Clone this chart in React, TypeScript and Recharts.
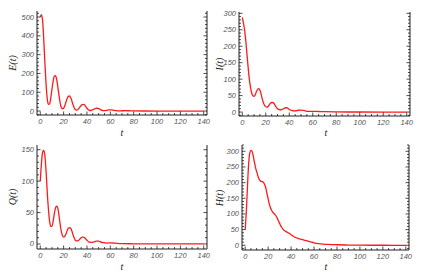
import React from 'react';
import { LineChart, Line, XAxis, YAxis } from 'recharts';

// E(t)
const tE = [0, 1, 2, 3, 4, 5, 6, 7, 8, 9, 10, 11, 12, 13, 14, 15, 16, 17, 18, 19, 20, 21, 22, 23, 24, 25, 26, 27, 28, 29, 30, 31, 32, 33, 34, 35, 36, 37, 38, 39, 40, 41, 42, 43, 44, 45, 46, 47, 48, 49, 50, 51, 52, 53, 54, 55, 57, 59, 61, 63, 65, 67, 70, 73, 76, 80, 90, 100, 120, 140];
const valuesE = [500, 512, 480, 380, 250, 140, 65, 35, 38, 70, 115, 158, 184, 188, 170, 130, 85, 45, 20, 12, 15, 28, 48, 66, 78, 80, 72, 55, 35, 18, 8, 5, 7, 13, 22, 30, 34, 35, 32, 24, 15, 8, 4, 3, 4, 7, 10, 13, 15, 15, 13, 10, 6, 3, 2, 2, 4, 6, 6, 4, 2, 1, 1.5, 2, 1.5, 0.8, 0.3, 0.1, 0, 0];

// I(t)
const tI = [0, 1, 2, 3, 4, 5, 6, 7, 8, 9, 10, 11, 12, 13, 14, 15, 16, 17, 18, 19, 20, 21, 22, 23, 24, 25, 26, 27, 28, 29, 30, 31, 32, 33, 34, 35, 36, 37, 38, 39, 40, 42, 44, 46, 48, 50, 52, 54, 57, 60, 63, 66, 70, 80, 90, 100, 120, 140];
const valuesI = [288, 270, 248, 215, 175, 135, 100, 75, 58, 50, 48, 52, 62, 69, 71, 67, 55, 40, 28, 20, 16, 15, 17, 22, 27, 29, 29, 26, 20, 14, 10, 8, 7, 7, 8, 10, 12, 13, 13, 11, 8, 5, 3.5, 4, 5.5, 6, 5, 3, 2, 2, 2, 1.5, 1, 0.4, 0.2, 0.1, 0, 0];

// Q(t)
const tQ = [0, 1, 2, 3, 4, 5, 6, 7, 8, 9, 10, 11, 12, 13, 14, 15, 16, 17, 18, 19, 20, 21, 22, 23, 24, 25, 26, 27, 28, 29, 30, 31, 32, 33, 34, 35, 36, 37, 38, 39, 40, 42, 44, 46, 48, 50, 52, 54, 57, 60, 63, 66, 70, 80, 90, 100, 120, 140];
const valuesQ = [100, 128, 146, 149, 140, 115, 82, 55, 36, 28, 28, 36, 48, 57, 60, 57, 46, 32, 20, 13, 11, 12, 16, 21, 25, 26, 25, 21, 15, 10, 6, 5, 5, 6, 8, 10, 11, 11, 10, 8, 6, 3, 2.5, 3.5, 4.5, 4.5, 3, 2, 1.5, 1.8, 1.5, 1, 0.6, 0.3, 0.1, 0, 0, 0];

// H(t)
const tH = [0, 1, 2, 3, 4, 5, 6, 7, 8, 9, 10, 11, 12, 13, 14, 15, 16, 17, 18, 19, 20, 21, 22, 23, 24, 25, 26, 27, 28, 29, 30, 31, 32, 33, 34, 35, 36, 37, 38, 39, 40, 42, 44, 46, 48, 50, 52, 54, 57, 60, 64, 68, 72, 80, 90, 100, 120, 140];
const valuesH = [50, 110, 190, 260, 295, 303, 300, 285, 265, 248, 235, 222, 212, 206, 204, 203, 200, 193, 182, 165, 148, 132, 120, 112, 106, 102, 98, 93, 86, 78, 70, 62, 56, 51, 47, 45, 43, 41, 39, 37, 34, 29, 25, 22, 20, 18, 16, 14, 11, 8, 5.5, 4, 3, 1.8, 0.8, 0.4, 0.1, 0];

const xMajor = [0, 20, 40, 60, 80, 100, 120, 140];
const xTicks = [0, 5, 10, 15, 20, 25, 30, 35, 40, 45, 50, 55, 60, 65, 70, 75, 80, 85, 90, 95, 100, 105, 110, 115, 120, 125, 130, 135, 140];
const yTicksE = [0, 100, 200, 300, 400, 500];
const yTicks50 = [0, 50, 100, 150, 200, 250, 300];
const yTicksQ = [0, 50, 100, 150];

const makeRows = (t: number[], v: number[]) => t.map((x, i) => ({ t: x, v: v[i] }));

// minor ticks between the labelled ones, kept inside the frame
const minorsOf = (major: number[], lo: number, hi: number, div: number) => {
  const step = major[1] - major[0];
  const out: number[] = [];
  for (let m = major[0] - step; m <= major[major.length - 1] + step; m += step) {
    for (let k = 0; k < div; k++) {
      const val = m + (k * step) / div;
      if (val >= lo && val <= hi) out.push(Math.round(val * 1000) / 1000);
    }
  }
  return out;
};

const labelStyle = { fontFamily: 'Liberation Sans, Arial, sans-serif', fontSize: 7.5, fontStyle: 'italic', fill: '#555' };

const tickFactory = (side: 'bottom' | 'top' | 'left' | 'right', majors: number[], showLabel: boolean) => (props: any) => {
  const { x, y, payload } = props;
  const v = payload.value;
  const major = majors.includes(v);
  const len = major ? 3.5 : 2;
  let line;
  if (side === 'bottom') line = <line x1={x} x2={x} y1={y} y2={y - len} stroke="#000" strokeWidth={0.7} />;
  else if (side === 'top') line = <line x1={x} x2={x} y1={y} y2={y + len} stroke="#000" strokeWidth={0.7} />;
  else if (side === 'left') line = <line x1={x} x2={x + len} y1={y} y2={y} stroke="#000" strokeWidth={0.7} />;
  else line = <line x1={x} x2={x - len} y1={y} y2={y} stroke="#000" strokeWidth={0.7} />;
  let label = null;
  if (showLabel && major) {
    if (side === 'bottom') label = <text x={x} y={y + 9} textAnchor="middle" style={labelStyle}>{v}</text>;
    if (side === 'left') label = <text x={x - 3} y={y + 2.5} textAnchor="end" style={labelStyle}>{v}</text>;
  }
  return <g>{line}{label}</g>;
};

interface PanelProps {
  rows: { t: number; v: number }[];
  ox: number; oy: number;
  left: number; top: number; right: number; bottom: number;
  yDomain: [number, number];
  yMajor: number[];
  yMinorDiv: number;
}

const Panel: React.FC<PanelProps> = ({ rows, ox, oy, left, top, right, bottom, yDomain, yMajor, yMinorDiv }) => {
  const W = 215;
  const H = 138;
  const yAll = minorsOf(yMajor, yDomain[0], yDomain[1], yMinorDiv);
  return (
    <div style={{ position: 'absolute', left: ox, top: oy, width: W, height: H }}>
      <LineChart
        width={W}
        height={H}
        data={rows}
        margin={{ top: top - oy, left: 0, right: 0, bottom: 0 }}
      >
        <XAxis dataKey="t" type="number" domain={[-2.8, 142.8]} ticks={xTicks} interval={0}
          allowDataOverflow height={oy + H - bottom} tickSize={0} tickMargin={0}
          axisLine={{ stroke: '#222', strokeWidth: 1 }} tick={tickFactory('bottom', xMajor, true)} />
        <XAxis xAxisId="top" orientation="top" dataKey="t" type="number" domain={[-2.8, 142.8]} ticks={xTicks} interval={0}
          allowDataOverflow height={0} tickSize={0} tickMargin={0}
          axisLine={{ stroke: '#222', strokeWidth: 1 }} tick={tickFactory('top', xMajor, false)} />
        <YAxis type="number" domain={yDomain} ticks={yAll} interval={0} allowDataOverflow
          width={left - ox} tickSize={0} tickMargin={0}
          axisLine={{ stroke: '#222', strokeWidth: 1 }} tick={tickFactory('left', yMajor, true)} />
        <YAxis yAxisId="right" orientation="right" type="number" domain={yDomain} ticks={yAll} interval={0} allowDataOverflow
          width={ox + W - right} tickSize={0} tickMargin={0}
          axisLine={{ stroke: '#222', strokeWidth: 1 }} tick={tickFactory('right', yMajor, false)} />
        <Line type="monotone" dataKey="v" stroke="#ff1a1a" strokeWidth={1.3} dot={false} isAnimationActive={false} />
      </LineChart>
    </div>
  );
};

const serif = { fontFamily: 'Liberation Serif, Times New Roman, serif', fontStyle: 'italic' as const, fontSize: 10, fill: '#222' };

const App: React.FC = () => {
  return (
    <div style={{ position: 'absolute', left: 0, top: 0, width: 430, height: 276, background: '#fff' }}>
      <Panel rows={makeRows(tE, valuesE)} ox={0} oy={0} left={37} top={11} right={207} bottom={115}
        yDomain={[-21, 532]} yMajor={yTicksE} yMinorDiv={5} />
      <Panel rows={makeRows(tI, valuesI)} ox={215} oy={0} left={239} top={12} right={410} bottom={116}
        yDomain={[-12, 304]} yMajor={yTicks50} yMinorDiv={5} />
      <Panel rows={makeRows(tQ, valuesQ)} ox={0} oy={138} left={37} top={145} right={207} bottom={249}
        yDomain={[-8, 157.5]} yMajor={yTicksQ} yMinorDiv={5} />
      <Panel rows={makeRows(tH, valuesH)} ox={215} oy={138} left={242} top={145} right={409} bottom={250}
        yDomain={[-15, 320]} yMajor={yTicks50} yMinorDiv={5} />
      <svg width={430} height={276} style={{ position: 'absolute', left: 0, top: 0, pointerEvents: 'none' }}>
        <text x={0} y={0} transform="translate(16,63) rotate(-90)" textAnchor="middle" style={serif}>E(t)</text>
        <text x={0} y={0} transform="translate(223,64) rotate(-90)" textAnchor="middle" style={serif}>I(t)</text>
        <text x={0} y={0} transform="translate(16,197) rotate(-90)" textAnchor="middle" style={serif}>Q(t)</text>
        <text x={0} y={0} transform="translate(223,198) rotate(-90)" textAnchor="middle" style={serif}>H(t)</text>
        <text x={122} y={136} textAnchor="middle" style={serif}>t</text>
        <text x={326} y={136} textAnchor="middle" style={serif}>t</text>
        <text x={122} y={270} textAnchor="middle" style={serif}>t</text>
        <text x={326} y={270} textAnchor="middle" style={serif}>t</text>
      </svg>
    </div>
  );
};

export default App;
